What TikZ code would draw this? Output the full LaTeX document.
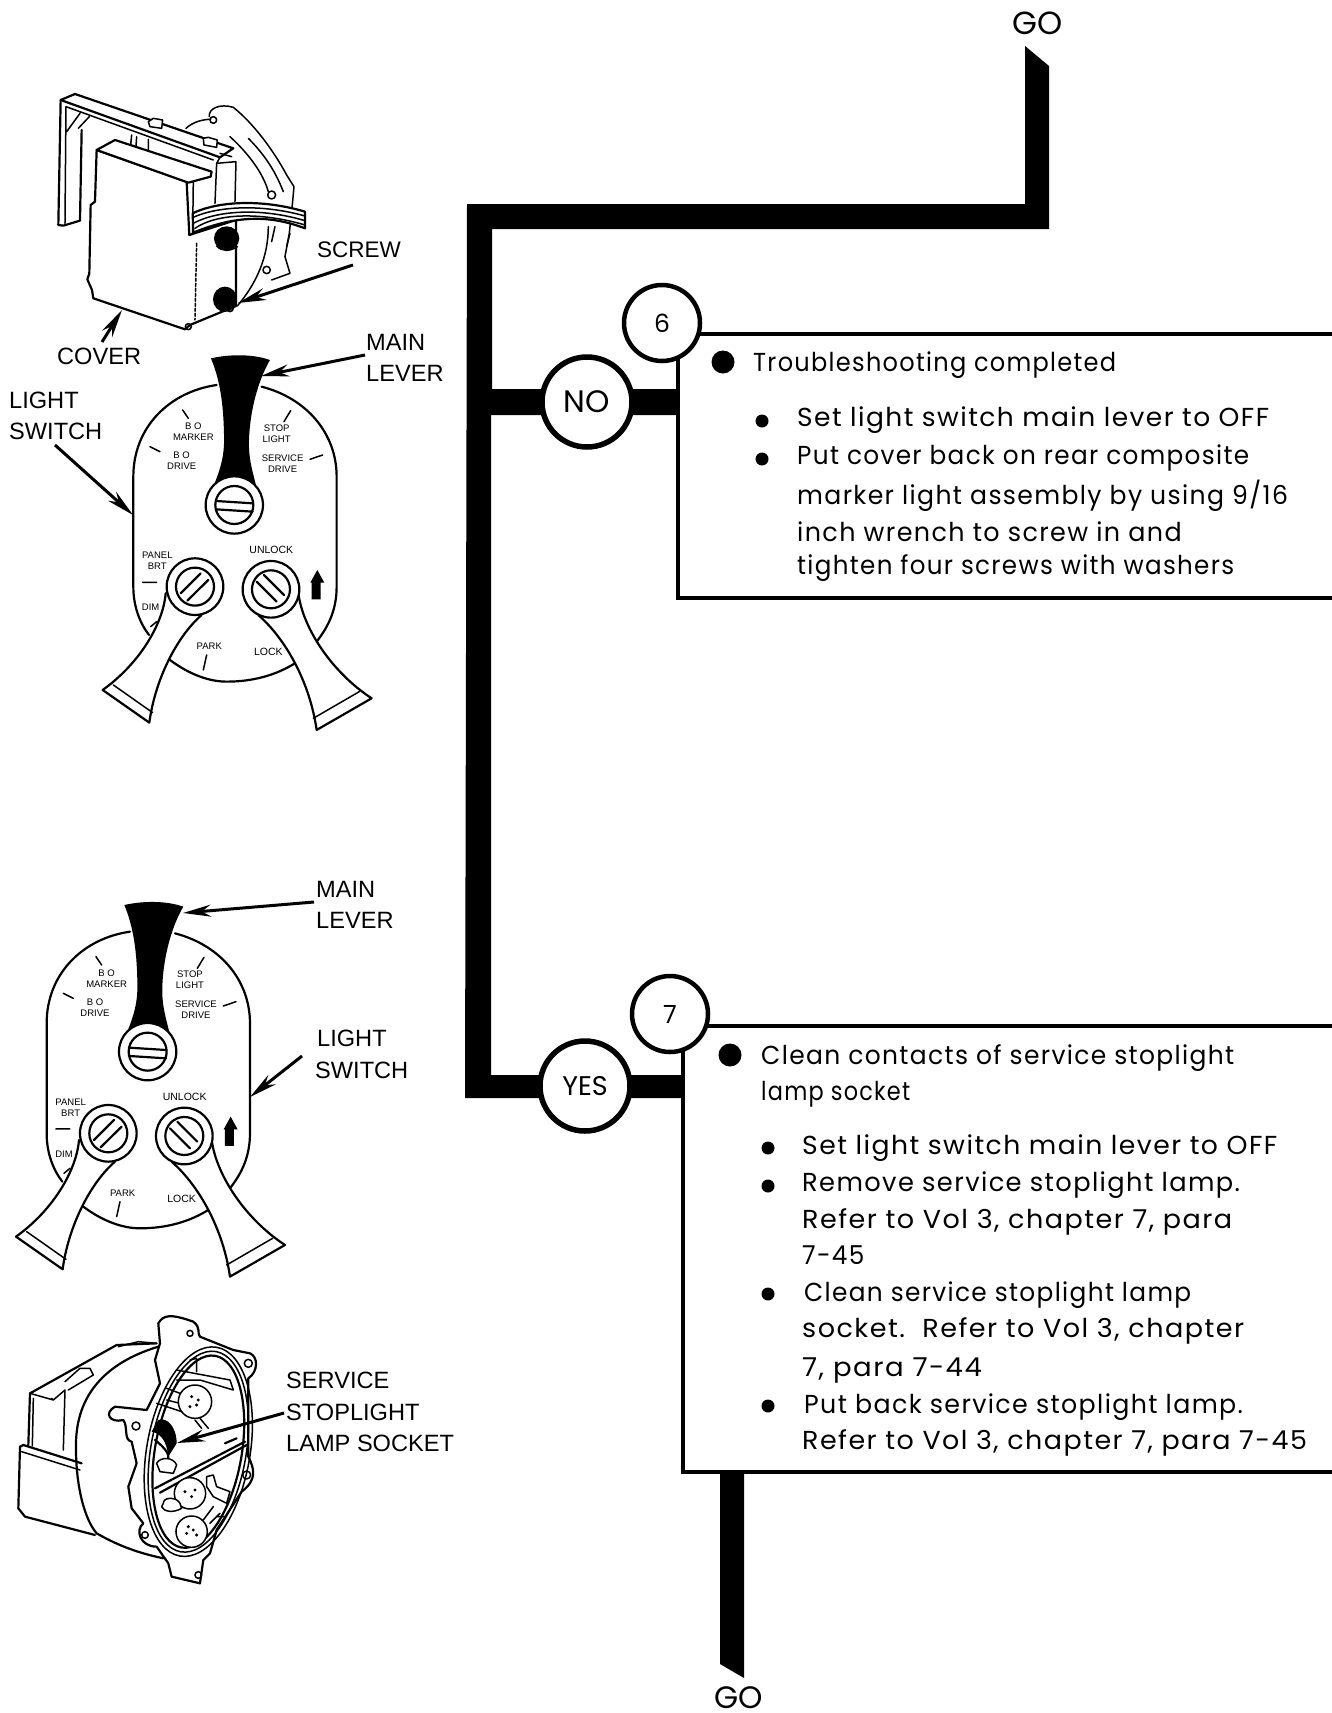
\documentclass[tikz,border=0pt]{standalone}
\usepackage{fontspec}
\setmainfont{Liberation Sans}
\newfontfamily\bodyf[LetterSpace=5.4]{Poppins}
\newfontfamily\plainf{Poppins}
\usetikzlibrary{arrows.meta}
\newcommand{\sx}[2]{\scalebox{#1}[1]{#2}}
\tikzset{
 trunk/.style={fill=black,draw=none},
 badge/.style={circle,draw=black,line width=5.5pt,fill=white,inner sep=0pt,minimum size=90pt},
 numbadge/.style={circle,draw=black,line width=4.5pt,fill=white,inner sep=0pt,minimum size=76pt},
 stepframe/.style={draw=black,line width=3.5pt,fill=white},
 body/.style={anchor=west,inner sep=0pt,yshift=-2pt,font=\bodyf\fontsize{26}{28}\selectfont},
 lab/.style={anchor=west,inner sep=0pt,font=\fontsize{23.6}{26}\selectfont},
 mini/.style={inner sep=0pt,align=center,font=\fontsize{9.5}{12}\selectfont},
 callout/.style={line width=3pt,-{Stealth[length=28pt,width=12pt]}},
 bigdot/.style={circle,fill=black,inner sep=0pt,minimum size=23pt},
 smalldot/.style={circle,fill=black,inner sep=0pt,minimum size=13pt},
 ink/.style={line width=1.5pt,line join=round,line cap=round},
 inkt/.style={line width=2.2pt,line join=round,line cap=round},
 zoomed/.style={x=0.3333pt,y=-0.3333pt},
}
\newcommand{\lightswitch}[2]{%
\begin{scope}[zoomed,xshift=#1pt,yshift=#2pt]
 \draw[inkt] (410,75) .. controls (270,95) and (160,200) .. (160,350) -- (160,680) .. controls (160,740) and (180,790) .. (207,825);
 \draw[inkt] (545,80) .. controls (680,115) and (770,220) .. (770,350) -- (770,680) .. controls (770,750) and (745,800) .. (710,845);
 \draw[inkt] (270,900) .. controls (330,945) and (390,965) .. (440,965) .. controls (520,965) and (590,945) .. (648,908);
 \fill (393,-5) .. controls (450,-18) and (520,-18) .. (570,0) .. controls (535,60) and (510,150) .. (507,240) .. controls (505,300) and (520,340) .. (530,385) -- (398,385) .. controls (420,330) and (435,290) .. (432,220) .. controls (430,130) and (420,60) .. (393,-5) -- cycle;
 \draw[inkt,fill=white] (463,435) circle[radius=86];
 \draw[inkt] (463,435) circle[radius=57];
 \draw[inkt] (408,423) -- (518,430) (408,448) -- (518,455);
 % left lever
 \draw[inkt,fill=white] (257,700) .. controls (250,790) and (180,910) .. (68,990) -- (208,1088) .. controls (225,960) and (290,830) .. (365,765);
 \draw[ink] (100,975) -- (218,1058);
 \draw[inkt,fill=white] (345,680) circle[radius=85];
 \draw[inkt] (345,680) circle[radius=57];
 \draw[inkt] (302,700) -- (362,640) (322,722) -- (385,660);
 % right lever
 \draw[inkt,fill=white] (655,700) .. controls (670,810) and (760,940) .. (875,1015) -- (710,1110) .. controls (690,970) and (620,840) .. (535,765);
 \draw[ink] (838,995) -- (700,1075);
 \draw[inkt,fill=white] (573,688) circle[radius=85];
 \draw[inkt] (573,688) circle[radius=57];
 \draw[inkt] (530,665) -- (590,725) (552,645) -- (612,705);
 % ticks
 \draw[ink] (308,150) -- (325,175) (210,260) -- (240,275) (632,152) -- (612,185) (690,298) -- (728,285) (188,667) -- (230,667) (380,885) -- (370,930) (212,800) -- (230,785);
 \fill (712,630) -- (733,668) -- (722,668) -- (722,718) -- (695,718) -- (695,668) -- (691,668) -- cycle;
 \node[mini] at (340,215) {B O\\[-1pt]MARKER};
 \node[mini] at (305,303) {B O\\[-1pt]DRIVE};
 \node[mini] at (590,220) {STOP\\[-1pt]LIGHT};
 \node[mini] at (608,310) {SERVICE\\[-1pt]DRIVE};
 \node[mini] at (232,603) {PANEL\\[-1pt]BRT};
 \node[mini] at (212,742) {DIM};
 \node[mini,font=\fontsize{10.5}{12}\selectfont] at (574,570) {UNLOCK};
 \node[mini] at (388,860) {PARK};
 \node[mini,font=\fontsize{10.5}{12}\selectfont] at (565,876) {LOCK};
\end{scope}}
\begin{document}
\begin{tikzpicture}[x=1pt,y=-1pt]
\useasboundingbox (0,0) rectangle (1331,1713);
\fill[white] (0,0) rectangle (1331,1713);
% trunks
\fill[trunk] (1025,46) -- (1049,66) -- (1049,229) -- (492,229) -- (492,389) -- (690,389) -- (690,415) -- (491,415) -- (491,1075) -- (690,1075) -- (690,1098) -- (465,1098) -- (467,204) -- (1025,204) -- cycle;
\fill[trunk] (720,1465) -- (744,1465) -- (744,1678) -- (720,1664) -- cycle;
% boxes
\draw[stepframe] (678,334) -- (1340,334) -- (1340,598) -- (678,598) -- cycle;
\draw[stepframe] (683,1026) -- (1340,1026) -- (1340,1472) -- (683,1472) -- cycle;
% badges
\node[badge] (no) at (587,402) {\plainf\fontsize{31}{34}\selectfont NO};
\node[numbadge] (six) at (662,323) {\plainf\fontsize{25}{28}\selectfont 6};
\node[badge] (yes) at (585,1086) {\plainf\fontsize{27}{30}\selectfont YES};
\node[numbadge] (seven) at (670,1014) {\plainf\fontsize{25}{28}\selectfont 7};
\node[inner sep=0pt,font=\plainf\fontsize{32}{34}\selectfont] (gotop) at (1038,23) {GO};
\node[inner sep=0pt,font=\plainf\fontsize{31}{33}\selectfont] (gobot) at (739,1698) {GO};
% box 1 text
\node[bigdot] (d1) at (723,362) {};
\node[body] (t1) at (753,363) {\sx{.925}{Troubleshooting completed}};
\node[smalldot] (d2) at (762,421) {};
\node[smalldot] (d3) at (762,459) {};
\node[body] (t2) at (797,418) {\sx{1.019}{Set light switch main lever to OFF}};
\node[body] (t3) at (797,456) {\sx{.952}{Put cover back on rear composite}};
\node[body] (t4) at (797,494) {\sx{.966}{marker light assembly by using 9/16}};
\node[body] (t5) at (797,530) {\sx{.978}{inch wrench to screw in and}};
\node[body] (t6) at (797,566) {\sx{.946}{tighten four screws with washers}};
% box 2 text
\node[bigdot] (d4) at (730,1055) {};
\node[body] (u1) at (761,1056) {\sx{.96}{Clean contacts of service stoplight}};
\node[body] (u2) at (761,1092) {\sx{.862}{lamp socket}};
\node[smalldot] (d5) at (768,1148) {};
\node[smalldot] (d6) at (768,1186) {};
\node[smalldot] (d7) at (768,1294) {};
\node[smalldot] (d8) at (768,1406) {};
\node[body] (u3) at (802,1146) {\sx{1.026}{Set light switch main lever to OFF}};
\node[body] (u4) at (802,1183) {\sx{.988}{Remove service stoplight lamp.}};
\node[body] (u5) at (802,1220) {\sx{1.04}{Refer to Vol 3, chapter 7, para}};
\node[body] (u6) at (802,1253) {\sx{.95}{7-45}};
\node[body] (u7) at (804,1293) {\sx{.954}{Clean service stoplight lamp}};
\node[body] (u8) at (802,1329) {\sx{1.04}{socket.\ \ Refer to Vol 3, chapter}};
\node[body] (u9) at (802,1368) {\sx{1.06}{7, para 7-44}};
\node[body] (u10) at (804,1405) {\sx{.973}{Put back service stoplight lamp.}};
\node[body] (u11) at (802,1441) {\sx{1.036}{Refer to Vol 3, chapter 7, para 7-45}};
% labels
\node[lab,font=\fontsize{22.5}{26}\selectfont] (screw) at (317,250) {SCREW};
\node[lab] (mainone) at (366,342) {MAIN};
\node[lab] (leverone) at (366,373) {LEVER};
\node[lab] (cover) at (57,356) {COVER};
\node[lab] (lightone) at (9,400) {LIGHT};
\node[lab] (switchone) at (9,431) {SWITCH};
\node[lab] (maintwo) at (316,889) {MAIN};
\node[lab] (levertwo) at (316,920) {LEVER};
\node[lab] (lighttwo) at (317,1038) {LIGHT};
\node[lab] (switchtwo) at (315,1070) {SWITCH};
\node[lab] (service) at (286,1380) {SERVICE};
\node[lab] (stop) at (286,1412) {STOPLIGHT};
\node[lab] (socket) at (286,1443) {LAMP SOCKET};
% switches
\lightswitch{80}{-360}
\lightswitch{-6.67}{-906.67}
% top device
\begin{scope}[zoomed,yshift=-60pt]
 % housing
 \draw[ink] (558,205) .. controls (580,185) and (610,178) .. (632,178);
 \draw[ink] (628,170) .. controls (625,145) and (660,130) .. (700,142) .. controls (760,190) and (820,270) .. (860,345) -- (882,380) -- (878,425) -- (868,520) -- (855,590) -- (870,640) -- (815,660);
 \draw[ink] (805,500) .. controls (805,590) and (770,670) .. (712,738);
 \draw[ink] (690,230) .. controls (745,280) and (790,340) .. (805,395);
 \draw[ink] (745,235) .. controls (790,280) and (825,330) .. (850,395);
 \draw[ink] (825,500) -- (815,545) (870,520) -- (860,560);
 \draw[ink] (640,180) circle[radius=10] (815,405) circle[radius=12] (800,630) circle[radius=11];
 % bracket
 \draw[inkt] (182,120) -- (175,495) -- (190,497) -- (240,482) -- (245,210);
 \draw[inkt] (182,120) -- (225,102) -- (700,265) -- (660,292) -- (182,120);
 \draw[ink] (198,140) -- (195,490) (198,140) -- (640,300) (200,215) -- (240,160) (235,205) -- (268,170);
 \draw[ink,fill=white] (445,185) -- (450,200) -- (485,205) -- (488,180) -- (460,175) -- cycle;
 \draw[ink,fill=white] (610,235) -- (612,255) -- (650,262) -- (652,240) -- (625,232) -- cycle;
 \draw[ink] (395,225) -- (392,255) (410,230) -- (408,260) (445,238) -- (445,275);
 \draw[ink] (660,292) -- (650,310) -- (645,430) (708,305) -- (705,425) (660,280) -- (695,290) (650,310) -- (708,305);
 % cover
 \draw[inkt,fill=white] (290,270) -- (285,425) -- (272,435) -- (268,640) -- (262,658) -- (276,690) -- (280,715) -- (555,808) -- (570,795) -- (708,738) -- (708,480) -- (568,525) -- (560,365) -- cycle;
 \draw[inkt,fill=white] (290,270) -- (345,240) -- (635,335) -- (632,350) -- (565,368) -- cycle;
 \draw[ink] (580,365) -- (578,520);
 \draw[ink,densely dashed] (590,550) -- (585,780);
 % wires
 \draw[inkt,fill=white] (578,460) .. controls (650,425) and (780,415) .. (915,455) -- (915,505) .. controls (810,465) and (710,465) .. (580,518) -- cycle;
 \draw[ink] (580,472) .. controls (650,440) and (780,430) .. (915,468) (580,490) .. controls (650,452) and (780,442) .. (915,482);
 \draw[ink] (585,505) .. controls (650,460) and (780,455) .. (915,495);
 % screws
 \fill (680,535) ellipse[x radius=38,y radius=36];
 \fill (675,718) ellipse[x radius=36,y radius=38];
 \draw[ink] (650,558) .. controls (665,575) and (690,575) .. (712,560);
 \draw[ink] (565,800) circle[radius=9];
 \draw[ink] (690,745) circle[radius=10];
\end{scope}
% bottom device
\begin{scope}[zoomed,yshift=-1300pt]
 \draw[inkt] (60,440) -- (55,625) -- (75,650) -- (285,705);
 \draw[inkt] (60,440) -- (70,435) -- (245,490);
 \draw[ink] (65,455) -- (240,510);
 \draw[inkt] (85,435) -- (90,280) -- (350,135) -- (470,130);
 \draw[ink] (90,280) -- (160,300) -- (195,270) -- (190,450) (195,245) -- (240,205) -- (270,205) -- (280,225) -- (205,270) (160,300) -- (155,295) (355,140) -- (415,125) -- (470,130);
 \draw[ink] (100,295) -- (97,438);
 \draw[inkt] (475,140) .. controls (310,190) and (230,290) .. (228,430) .. controls (226,560) and (255,660) .. (290,700) .. controls (360,740) and (420,760) .. (490,775);
 % flange
 \draw[inkt,fill=white] (480,130) -- (475,70) .. controls (490,45) and (510,40) .. (580,65) .. controls (605,85) and (590,100) .. (600,110) -- (700,150) -- (750,160) .. controls (775,170) and (775,215) .. (745,235) -- (745,470) .. controls (765,510) and (770,540) .. (725,575) -- (650,690) -- (630,760) -- (610,780) -- (600,850) -- (515,830) -- (505,790) -- (470,740) .. controls (420,740) and (405,690) .. (430,670) -- (395,625) -- (385,560) -- (410,490) -- (395,425) .. controls (370,420) and (385,380) .. (370,360) .. controls (330,370) and (310,340) .. (345,320) -- (440,330) -- (480,250) -- (465,180) -- cycle;
 \draw[inkt,fill=white,rotate around={-10:(595,455)}] (595,455) ellipse[x radius=130,y radius=292];
 \draw[ink,rotate around={-10:(595,455)}] (595,455) ellipse[x radius=155,y radius=318];
 \draw[ink,rotate around={-10:(595,455)}] (595,455) ellipse[x radius=143,y radius=305];
 \foreach \a/\b/\r in {570/100/9,745/190/12,740/525/12,408/378/12,435/705/10,595/825/10} \draw[ink] (\a,\b) circle[radius=\r];
 % interior
 \draw[ink] (530,210) -- (690,240) -- (700,270) -- (600,240) -- (530,240);
 \draw[ink] (570,180) -- (590,175) -- (590,215);
 \draw[ink] (470,310) -- (560,340) (500,265) -- (540,280) (500,300) -- (540,310);
 \draw[ink,fill=white] (585,305) circle[radius=50];
 \draw[ink] (600,355) -- (625,385) (585,360) -- (605,385);
 \fill (475,360) .. controls (500,350) and (530,380) .. (530,430) -- (505,470) .. controls (500,420) and (480,400) .. (455,395) -- cycle;
 \draw[inkt] (465,420) .. controls (490,440) and (510,460) .. (505,480);
 \draw[ink,fill=white] (470,490) .. controls (480,470) and (520,470) .. (530,495) -- (520,520) -- (480,515) -- cycle;
 \draw[inkt] (465,565) -- (735,425) (480,578) -- (740,435);
 \draw[inkt] (675,430) -- (710,415);
 \draw[ink,fill=white] (570,580) circle[radius=47];
 \draw[ink,fill=white] (490,610) .. controls (490,590) and (530,590) .. (540,610) -- (545,625) .. controls (520,640) and (490,635) .. (485,620) -- cycle;
 \draw[ink,fill=white] (620,530) -- (640,525) -- (650,560) -- (690,575) -- (680,610) -- (640,590) -- (620,560) -- cycle;
 \draw[ink,fill=white] (575,695) circle[radius=47];
 \draw[ink] (610,660) -- (640,620) (630,670) -- (660,640) (650,650) -- (670,650);
 \foreach \a/\b in {575/290,590/315,570/320,595/300,555/575,575/590,585/570,560/700,580/690,565/680,590/705} \fill (\a,\b) circle[radius=5];
\end{scope}
% callouts
\coordinate (e1) at (238,303);
\coordinate (e2) at (122,310);
\coordinate (e3) at (261,376);
\coordinate (e4) at (133,515);
\coordinate (e5) at (183,913);
\coordinate (e6) at (250,1097);
\coordinate (e7) at (177,1443);
\coordinate (s1) at (353,265);
\coordinate (s2) at (102,342);
\coordinate (s3) at (365,355);
\coordinate (s4) at (55,445);
\coordinate (s5) at (314,902);
\coordinate (s6) at (302,1056);
\coordinate (s7) at (284,1413);
\draw[callout] (s1) -- (e1);
\draw[callout] (s2) -- (e2);
\draw[callout] (s3) -- (e3);
\draw[callout] (s4) -- (e4);
\draw[callout] (s5) -- (e5);
\draw[callout] (s6) -- (e6);
\draw[callout] (s7) -- (e7);
\end{tikzpicture}
\end{document}
